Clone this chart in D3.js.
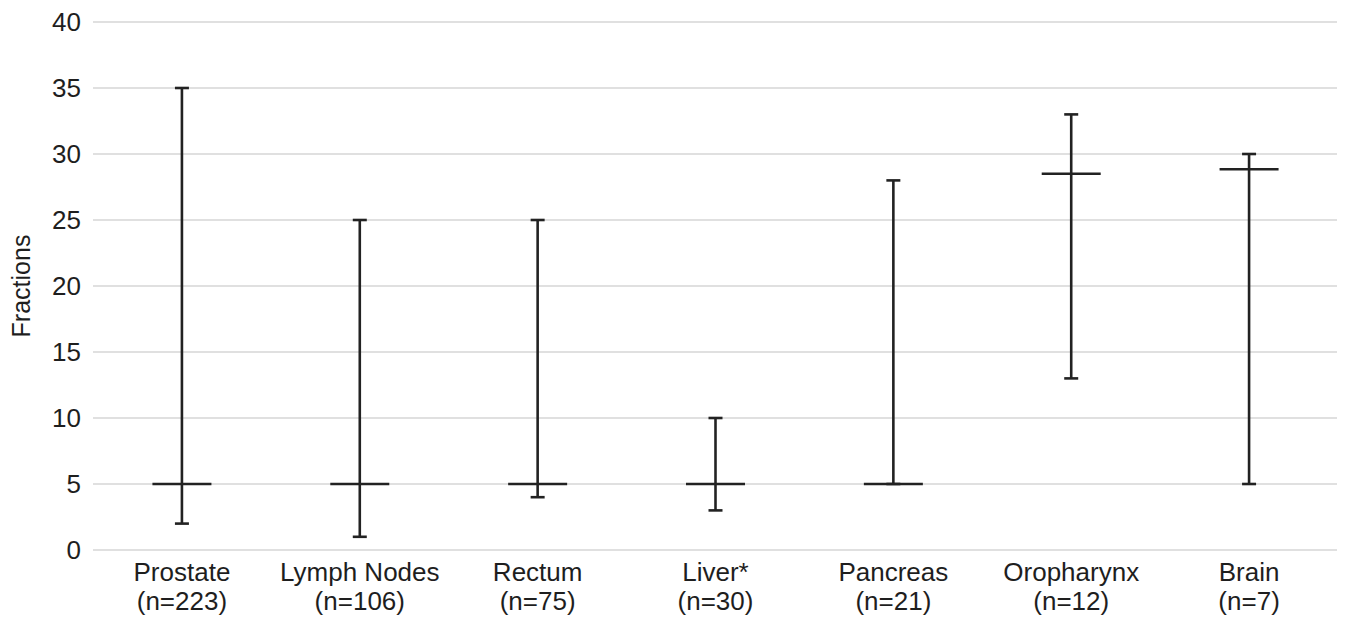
<!DOCTYPE html>
<html>
<head>
    <title>Fractions by site</title>
    <script type="text/javascript" src="https://d3js.org/d3.v7.min.js"></script>
    <style>
        body { margin: 0; background: #fff; }
        text { font-family: "Liberation Sans", Arial, sans-serif; fill: #1e1e1e; }
    </style>
</head>
<body>
    <script>
        // data
        var sites   = ["Prostate", "Lymph Nodes", "Rectum", "Liver*", "Pancreas", "Oropharynx", "Brain"];
        var counts  = ["(n=223)", "(n=106)", "(n=75)", "(n=30)", "(n=21)", "(n=12)", "(n=7)"];
        var minVals = [2, 1, 4, 3, 5, 13, 5];
        var maxVals = [35, 25, 25, 10, 28, 33, 30];
        var medVals = [5, 5, 5, 5, 5, 28.5, 28.85];
        var yTicks  = [0, 5, 10, 15, 20, 25, 30, 35, 40];

        var W = 1345, H = 623;
        var margin = {top: 22, right: 7, bottom: 73, left: 93};

        var svg = d3.select("body").append("svg")
                    .attr("width", W)
                    .attr("height", H);

        var xScale = d3.scaleBand().domain(sites).range([margin.left, W - margin.right]).padding(0);
        var yScale = d3.scaleLinear().domain([0, 40]).range([H - margin.bottom, margin.top]);

        // gridlines
        svg.append("g")
            .selectAll("line")
            .data(yTicks)
            .enter()
            .append("line")
            .attr("x1", margin.left)
            .attr("x2", W - margin.right - 1)
            .attr("y1", function(d){ return yScale(d); })
            .attr("y2", function(d){ return yScale(d); })
            .attr("stroke", "#e0e0e0")
            .attr("stroke-width", 2);

        // y axis labels
        var yAxis = d3.axisLeft(yScale).tickValues(yTicks).tickSize(0).tickPadding(12);
        var yg = svg.append("g")
            .attr("transform", "translate(" + margin.left + ",0)")
            .call(yAxis);
        yg.select(".domain").remove();
        yg.selectAll("text")
            .style("font-size", "26px")
            .style("font-family", "'Liberation Sans', Arial, sans-serif")
            .attr("fill", "#1e1e1e");

        // x axis labels (two lines)
        var xg = svg.append("g")
            .attr("transform", "translate(0," + (H - margin.bottom) + ")")
            .call(d3.axisBottom(xScale).tickSize(0).tickFormat(""));
        xg.select(".domain").remove();
        xg.selectAll(".tick").each(function(d, i) {
            var t = d3.select(this).append("text")
                .attr("text-anchor", "middle")
                .attr("fill", "#1e1e1e")
                .style("font-size", "26px")
                .style("font-family", "'Liberation Sans', Arial, sans-serif");
            t.append("tspan").attr("x", 0).attr("y", 31).text(sites[i]);
            t.append("tspan").attr("x", 0).attr("y", 60).text(counts[i]);
        });

        svg.append("text")
            .attr("transform", "translate(30," + yScale(20) + ") rotate(-90)")
            .attr("text-anchor", "middle")
            .style("font-size", "25px")
            .text("Fractions");

        // ranges
        var idx = d3.range(sites.length);
        var cx = function(i){ return xScale(sites[i]) + xScale.bandwidth() / 2; };
        var marks = svg.append("g").attr("stroke", "#222").attr("stroke-width", 2.6);

        marks.selectAll(".whisker")
            .data(idx)
            .enter()
            .append("line")
            .attr("class", "whisker")
            .attr("x1", cx).attr("x2", cx)
            .attr("y1", function(i){ return yScale(minVals[i]); })
            .attr("y2", function(i){ return yScale(maxVals[i]); });

        ["min", "max"].forEach(function(k) {
            var vals = k == "min" ? minVals : maxVals;
            marks.selectAll(".cap-" + k)
                .data(idx)
                .enter()
                .append("line")
                .attr("class", "cap-" + k)
                .attr("x1", function(i){ return cx(i) - 7; })
                .attr("x2", function(i){ return cx(i) + 7; })
                .attr("y1", function(i){ return yScale(vals[i]); })
                .attr("y2", function(i){ return yScale(vals[i]); });
        });

        marks.selectAll(".median")
            .data(idx)
            .enter()
            .append("line")
            .attr("class", "median")
            .attr("x1", function(i){ return cx(i) - 29.5; })
            .attr("x2", function(i){ return cx(i) + 29.5; })
            .attr("y1", function(i){ return yScale(medVals[i]); })
            .attr("y2", function(i){ return yScale(medVals[i]); });
    </script>
</body>
</html>
